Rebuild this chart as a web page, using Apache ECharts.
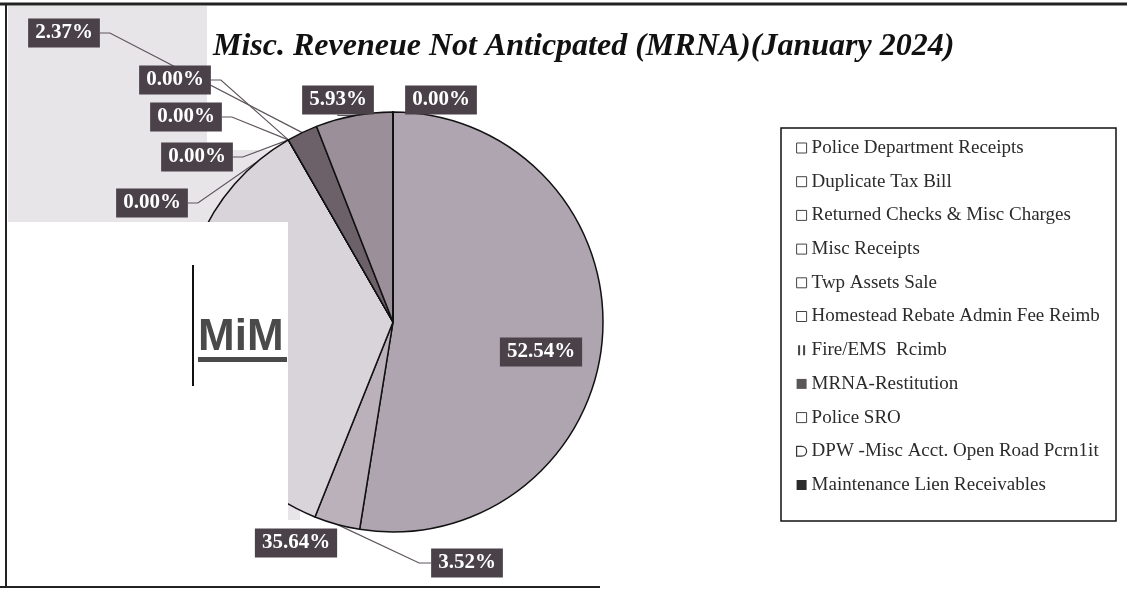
<!DOCTYPE html>
<html>
<head>
<meta charset="utf-8">
<script src="https://cdn.jsdelivr.net/npm/echarts@6/dist/echarts.min.js"></script>
<style>
  html, body { margin: 0; padding: 0; background: #fff; }
  #chart { width: 1127px; height: 590px; }
</style>
</head>
<body>
<div id="chart"></div>
<script>
// slices, in drawing order (clockwise from 12 o'clock)
var categories = [
    'Police Department Receipts',
    'Duplicate Tax Bill',
    'Returned Checks & Misc Charges',
    'Misc Receipts',
    'Twp Assets Sale',
    'Homestead Rebate Admin Fee Reimb',
    'Fire/EMS  Rcimb',
    'MRNA-Restitution',
    'Police SRO',
    'DPW -Misc Acct. Open Road Pcrn1it',
    'Maintenance Lien Receivables'
];
// percent of total
var shares = [52.54, 3.52, 35.64, 0, 0, 0, 0, 2.37, 5.93, 0, 0];

var sliceColors = ['#aea5b1', '#bbb1bb', '#d9d3da', '#d9d3da', '#d9d3da', '#d9d3da',
    '#d9d3da', '#6c6169', '#9b8f9a', '#c9c2ca', '#c9c2ca'];

// where each percent box sits (centre), null = label not shown
var labelSpots = [
    [541, 352], [467, 563], [296, 543], [175, 80], [186, 117], [197, 157],
    [152, 203], [64, 33], [338, 100], null, [441, 100]
];
// which side of the box the leader line meets, null = no leader line
var lineSides = [null, 'l', null, 'r', 'r', 'r', 'r', 'r', 'b', null, null];

var chart = echarts.init(document.getElementById('chart'));

var pieData = categories.map(function (name, i) {
    return {
        name: name,
        value: shares[i],
        itemStyle: { color: sliceColors[i] },
        label: { show: labelSpots[i] !== null },
        labelLine: { show: lineSides[i] !== null }
    };
});

// legend markers: hollow boxes mostly, the scan shows a few odd ones
var hollow = { color: '#fff', borderColor: '#444', borderWidth: 1 };
var legendData = categories.map(function (name, i) {
    var item = { name: name, icon: 'rect', itemStyle: hollow };
    if (i === 6) {
        item.icon = 'path://M0,0 L2,0 L2,10 L0,10 Z M5,0 L7,0 L7,10 L5,10 Z';
        item.itemStyle = { color: '#444', borderWidth: 0 };
    } else if (i === 7) {
        item.itemStyle = { color: '#5a5558', borderWidth: 0 };
    } else if (i === 9) {
        item.icon = 'path://M0,0 L5,0 C12,0 12,10 5,10 L0,10 Z';
        item.itemStyle = { color: 'rgba(0,0,0,0)', borderColor: '#333', borderWidth: 1.2 };
    } else if (i === 10) {
        item.itemStyle = { color: '#2a2a2a', borderWidth: 0 };
    }
    return item;
});

var option = {
    backgroundColor: '#fff',
    animation: false,
    title: {
        text: 'Misc. Reveneue Not Anticpated (MRNA)(January 2024)',
        left: 208,
        top: 26,
        textStyle: {
            fontFamily: 'Liberation Serif',
            fontStyle: 'italic',
            fontWeight: 'bold',
            fontSize: 32,
            color: '#111'
        }
    },
    legend: {
        orient: 'vertical',
        left: 791,
        top: 132,
        itemWidth: 10,
        itemHeight: 10,
        itemGap: 11.7,
        selectedMode: false,
        data: legendData,
        textStyle: {
            fontFamily: 'Liberation Serif',
            fontSize: 19,
            lineHeight: 22,
            color: '#2b2b2b'
        }
    },
    graphic: [
        { type: 'rect', z: -5, shape: { x: 8, y: 6, width: 199, height: 216 }, style: { fill: '#e8e5e9' } },
        { type: 'rect', z: -5, shape: { x: 8, y: 150, width: 292, height: 370 }, style: { fill: '#e8e5e9' } },
        { type: 'rect', z: 50, shape: { x: 7, y: 222, width: 281, height: 304 }, style: { fill: '#fff' } },
        { type: 'line', z: 51, shape: { x1: 193, y1: 265, x2: 193, y2: 386 }, style: { stroke: '#111', lineWidth: 2 } },
        {
            type: 'text', z: 51, x: 198, y: 316,
            style: { text: 'MiM', font: 'bold 44px "Liberation Sans"', fill: '#4a4a4a', verticalAlign: 'top' }
        },
        { type: 'rect', z: 51, shape: { x: 198, y: 357, width: 89, height: 5 }, style: { fill: '#4a4a4a' } },
        { type: 'line', z: 60, shape: { x1: 0, y1: 4, x2: 1127, y2: 4 }, style: { stroke: '#222', lineWidth: 3 } },
        { type: 'line', z: 60, shape: { x1: 6, y1: 4, x2: 6, y2: 588 }, style: { stroke: '#222', lineWidth: 2 } },
        { type: 'line', z: 60, shape: { x1: 0, y1: 587, x2: 600, y2: 587 }, style: { stroke: '#222', lineWidth: 2 } },
        {
            type: 'rect', z: 60, shape: { x: 781, y: 128, width: 335, height: 393 },
            style: { fill: null, stroke: '#111', lineWidth: 1.5 }
        }
    ],
    series: [
        {
            type: 'pie',
            center: [393, 322],
            radius: 210,
            startAngle: 90,
            clockwise: true,
            avoidLabelOverlap: false,
            data: pieData,
            itemStyle: {
                borderColor: '#111',
                borderWidth: 1.5
            },
            label: {
                position: 'outside',
                formatter: function (p) {
                    return p.value.toFixed(2) + '%';
                },
                fontFamily: 'Liberation Serif',
                fontWeight: 'bold',
                fontSize: 21,
                color: '#fff',
                backgroundColor: '#4b4249',
                padding: [4, 7]
            },
            labelLine: {
                lineStyle: { color: '#5e555c', width: 1.2 }
            },
            labelLayout: function (params) {
                var i = params.dataIndex;
                var spot = labelSpots[i];
                if (!spot) {
                    return {};
                }
                var out = {
                    x: spot[0],
                    y: spot[1],
                    align: 'center',
                    verticalAlign: 'middle'
                };
                var side = lineSides[i];
                var pts = params.labelLinePoints;
                if (side && pts && pts.length) {
                    var w = params.labelRect.width / 2;
                    var h = params.labelRect.height / 2;
                    var end, bend;
                    if (side === 'r') {
                        end = [spot[0] + w, spot[1]];
                        bend = [end[0] + 10, end[1]];
                    } else if (side === 'l') {
                        end = [spot[0] - w, spot[1]];
                        bend = [end[0] - 12, end[1]];
                    } else {
                        end = [spot[0], spot[1] + h];
                        bend = [end[0], end[1] + 1];
                    }
                    out.labelLinePoints = [pts[0], bend, end];
                }
                return out;
            }
        }
    ]
};

chart.setOption(option);
</script>
</body>
</html>
